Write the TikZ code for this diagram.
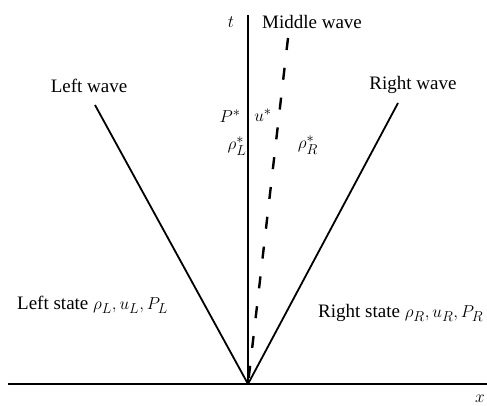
\documentclass[tikz,border=0pt]{standalone}
\usepackage{fontspec}
\setmainfont{Liberation Serif}

\tikzset{
  axisline/.style={line width=1.5pt},
  waveline/.style={line width=1.8pt},
  contactline/.style={line width=2.4pt, dash pattern=on 12pt off 18pt},
  lbl/.style={inner sep=0pt, font=\fontsize{19}{22}\selectfont},
}

\begin{document}
\begin{tikzpicture}[x=1pt, y=-1pt]
\useasboundingbox (0,0) rectangle (487,405);

\coordinate (O) at (248,384);
\coordinate (xa) at (8,384);
\coordinate (xb) at (487,384);
\coordinate (ta) at (248,15);
\coordinate (WL) at (95,105);
\coordinate (WR) at (398,103);
\coordinate (WM) at (288,38);

% Ejes
\draw[axisline] (xa) -- (xb);
\draw[waveline] (O) -- (ta);

% Ondas
\draw[waveline] (O) -- (WL);
\draw[waveline] (O) -- (WR);
\draw[contactline] (WM) -- (O);

% Rotulos
\node[lbl] (tlab) at (231,22) {$t$};
\node[lbl] (xlab) at (480,399) {$x$};
\node[lbl, anchor=west] (midlab) at (262,22) {Middle wave};
\node[lbl] (leftlab) at (89,86) {Left wave};
\node[lbl] (rightlab) at (413,85) {Right wave};

\node[lbl] (Pstar) at (230,116) {$P^*$};
\node[lbl] (ustar) at (263,115) {$u^*$};
\node[lbl] (rhoL) at (237,146) {$\rho_L^*$};
\node[lbl] (rhoR) at (308,145) {$\rho_R^*$};

\node[lbl, anchor=west] (leftstate) at (17,305) {Left state $\rho_L, u_L, P_L$};
\node[lbl, anchor=west] (rightstate) at (318,313) {Right state $\rho_R, u_R, P_R$};
\end{tikzpicture}
\end{document}
